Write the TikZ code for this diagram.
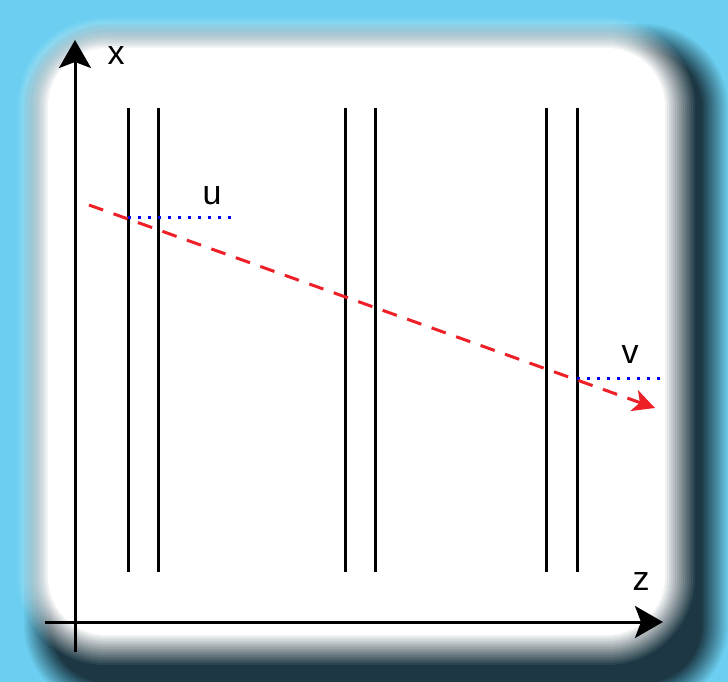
\documentclass[tikz,border=0pt]{standalone}
\usepackage{fontspec}
\setmainfont{Liberation Sans}
\usetikzlibrary{arrows.meta}
\definecolor{bgblue}{HTML}{6CCFF1}
\definecolor{shadowc}{HTML}{1D3844}
\definecolor{arrred}{HTML}{EE2027}
\definecolor{dotblue}{HTML}{0000EE}
\tikzset{
  axisline/.style={line width=3pt, -{Stealth[length=28pt,width=32pt,inset=6pt]}},
  wall/.style={line width=3pt},
  ray/.style={line width=3pt, arrred, dash pattern=on 15pt off 11pt,
     -{Stealth[length=22pt,width=22pt,inset=6pt]}},
  dotline/.style={line width=3pt, dotblue, dash pattern=on 3pt off 7pt},
  lbl/.style={inner sep=0pt, font=\fontsize{34}{40}\selectfont}
}
\begin{document}
\begin{tikzpicture}[x=1pt,y=-1pt]
\useasboundingbox (0,0) rectangle (728,682);
\fill[bgblue] (0,0) rectangle (728,682);
% blurred drop shadow
\foreach \m in {1,...,14}{
  \pgfmathsetmacro\offs{16-2*\m}
  \pgfmathsetmacro\op{1/(15-\m)}
  \pgfmathsetmacro\rad{70+\offs}
  \fill[shadowc, fill opacity=\op, rounded corners=\rad pt]
    ({38-\offs},{38-\offs}) rectangle ({714+\offs},{695+\offs});
}
% feathered white panel
\foreach \m in {1,...,16}{
  \pgfmathsetmacro\offs{32-2*\m}
  \pgfmathsetmacro\op{1/(17-\m)}
  \pgfmathsetmacro\rad{58+\offs}
  \fill[white, fill opacity=\op, rounded corners=\rad pt]
    ({48-\offs},{48-\offs}) rectangle ({665+\offs},{635+\offs});
}
% axes
\coordinate (xbot) at (75,652);
\coordinate (xtop) at (75,40);
\coordinate (zleft) at (45,622);
\coordinate (zright) at (663,622);
\draw[axisline] (xbot) -- (xtop);
\draw[axisline] (zleft) -- (zright);
\node[lbl] (xlab) at (116,56) {x};
\node[lbl] (zlab) at (641,582) {z};
% walls
\foreach \xx/\nm in {128/a,158/b,345/c,375/d,546/e,577/f}{
  \coordinate (w\nm top) at (\xx,108);
  \coordinate (w\nm bot) at (\xx,572);
  \draw[wall] (w\nm top) -- (w\nm bot);
}
% dotted offsets
\coordinate (u1) at (128,217);
\coordinate (u2) at (232,217);
\coordinate (v1) at (577,378);
\coordinate (v2) at (665,378);
\draw[dotline] (u1) -- (u2);
\draw[dotline] (v1) -- (v2);
\node[lbl] (ulab) at (212,196) {u};
\node[lbl] (vlab) at (630,355) {v};
% ray
\coordinate (rs) at (89,205);
\coordinate (re) at (655,408);
\draw[ray] (rs) -- (re);
\end{tikzpicture}
\end{document}
